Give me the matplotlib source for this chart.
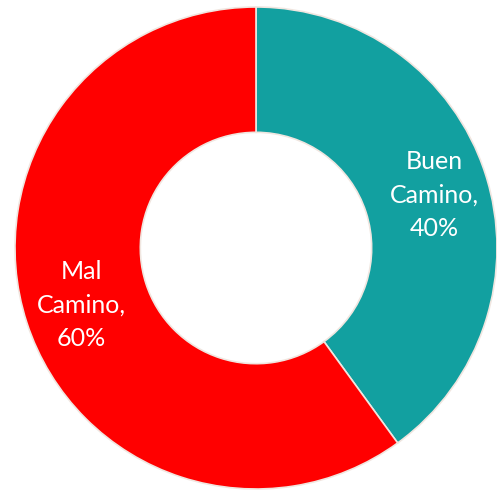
import matplotlib
matplotlib.use('Agg')
import matplotlib.pyplot as plt

labels = ['Buen\nCamino,\n40%', 'Mal\nCamino,\n60%']
values = [40, 60]
colors = ['#12a0a0', '#ff0000']

fig = plt.figure(figsize=(4.97, 4.96), dpi=100)
ax = fig.add_axes([15 / 497, 7 / 496, 482 / 497, 482 / 496])

wedges, _ = ax.pie(values, colors=colors, startangle=90, counterclock=False,
                   radius=1, wedgeprops=dict(width=0.52, edgecolor='#f0e6e0', linewidth=1.2))

# label positions
label_pos = [(0.74, 0.22), (-0.725, -0.235)]
for lab, (x, y) in zip(labels, label_pos):
    ax.text(x, y, lab, ha='center', va='center', color='white', fontsize=18,
            family='Lato', linespacing=1.55)

ax.set_xlim(-1, 1)
ax.set_ylim(-1, 1)
ax.set_aspect('equal')
ax.axis('off')

fig.savefig('out.png', dpi=100)
